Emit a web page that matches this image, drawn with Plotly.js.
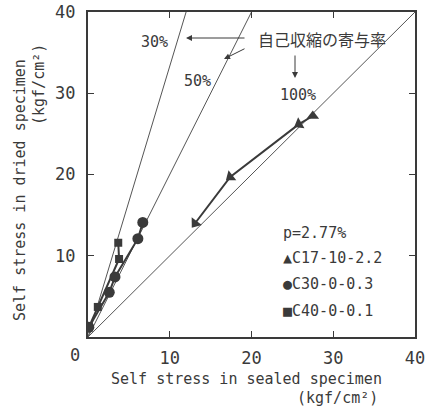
<!DOCTYPE html>
<html>
<head>
<meta charset="utf-8">
<script src="https://cdn.plot.ly/plotly-3.0.1.min.js"></script>
<style>html,body{margin:0;padding:0;background:#fff;}#chart{width:426px;height:407px;}</style>
</head>
<body>
<div id="chart"></div>
<script>
// Reference lines (contribution ratio of autogenous shrinkage)
const refNames = ["30%", "50%", "100%"];
const refX = [[0, 12], [0, 20], [0, 40]];
const refY = [[0, 40], [0, 40], [0, 40]];

// Series
const c17Name = "C17-10-2.2";
const c17X = [27.5, 25.8, 17.4, 13.1];
const c17Y = [27.2, 26.2, 19.7, 14.0];

const c30Name = "C30-0-0.3";
const c30X = [0.1, 2.6, 3.3, 6.1, 6.7];
const c30Y = [1.2, 5.5, 7.4, 12.1, 14.1];

const c40Name = "C40-0-0.1";
const c40X = [0.1, 1.2, 3.8, 3.7];
const c40Y = [1.2, 3.7, 9.6, 11.6];

const xTicks = [10, 20, 30, 40];
const yTicks = [10, 20, 30, 40];

const ink = "#3a3a3a";
const mono = "DejaVu Sans Mono, monospace";
const cjk = "Noto Sans CJK JP, sans-serif";

const traces = [];
for (let i = 0; i < refX.length; i++) {
  traces.push({x: refX[i], y: refY[i], mode: "lines", name: refNames[i],
    line: {color: "#555", width: 1}, hoverinfo: "skip", showlegend: false});
}
traces.push({x: c40X, y: c40Y, mode: "lines+markers", name: c40Name,
  line: {color: ink, width: 2}, marker: {symbol: "square", size: 8, color: ink}, showlegend: false});
traces.push({x: c30X, y: c30Y, mode: "lines+markers", name: c30Name,
  line: {color: ink, width: 2}, marker: {symbol: "circle", size: 11, color: ink}, showlegend: false});
traces.push({x: c17X, y: c17Y, mode: "lines+markers", name: c17Name,
  line: {color: ink, width: 2},
  marker: {symbol: "triangle-up", size: 11, color: ink, angleref: "up", angle: [0, 240, 232, 217]},
  showlegend: false});

const tickFont = {family: mono, size: 17, color: ink};

const ann = [];
const L = 88, R = 415, T = 12, B = 337;
function paperAnn(text, xpx, ypx, opts) {
  return Object.assign({
    text: text, xref: "paper", yref: "paper",
    x: (xpx - L) / (R - L), y: (B - ypx) / (B - T),
    showarrow: false, xanchor: "center", yanchor: "middle",
    font: {family: mono, size: 15, color: ink}
  }, opts || {});
}
ann.push(paperAnn("0", 75, 355, {font: tickFont}));
ann.push(paperAnn(refNames[0], 154, 42));
ann.push(paperAnn(refNames[1], 197, 81));
ann.push(paperAnn(refNames[2], 298, 95));
ann.push(paperAnn("自己収縮の寄与率", 322, 39, {font: {family: cjk, size: 16, color: ink}}));
ann.push(paperAnn("p=2.77%", 281, 233, {xanchor: "left"}));
ann.push(paperAnn("▲" + c17Name, 281, 258, {xanchor: "left"}));
ann.push(paperAnn("●" + c30Name, 281, 284, {xanchor: "left"}));
ann.push(paperAnn("■" + c40Name, 281, 311, {xanchor: "left"}));
ann.push(paperAnn("Self stress in sealed specimen", 246, 379));
ann.push(paperAnn("(kgf/cm²)", 337, 398));
ann.push(paperAnn("Self stress in dried specimen", 20, 190, {textangle: -90}));
ann.push(paperAnn("(kgf/cm²)", 39, 85, {textangle: -90}));

function arrowAnn(x0, y0, x1, y1) {
  return {text: "", xref: "paper", yref: "paper",
    x: (x1 - L) / (R - L), y: (B - y1) / (B - T),
    ax: x0 - x1, ay: y0 - y1, axref: "pixel", ayref: "pixel",
    showarrow: true, arrowhead: 2, arrowsize: 1.2, arrowwidth: 1, arrowcolor: ink};
}
ann.push(arrowAnn(246, 38, 186, 38));
ann.push(arrowAnn(246, 48, 224, 59));
ann.push(arrowAnn(295, 54, 295, 78));

const layout = {
  width: 426, height: 407,
  margin: {l: 88, r: 11, t: 12, b: 70},
  paper_bgcolor: "#fff", plot_bgcolor: "#fff",
  showlegend: false,
  xaxis: {range: [0, 40], tickvals: xTicks, ticktext: xTicks.map(String),
    ticks: "inside", ticklen: 6, tickcolor: ink, mirror: "ticks",
    showline: true, linecolor: ink, linewidth: 2, showgrid: false, zeroline: false,
    tickfont: tickFont, ticklabelstandoff: 5, fixedrange: true},
  yaxis: {range: [0, 40], tickvals: yTicks, ticktext: yTicks.map(String),
    ticks: "inside", ticklen: 6, tickcolor: ink, mirror: "ticks",
    showline: true, linecolor: ink, linewidth: 2, showgrid: false, zeroline: false,
    tickfont: tickFont, ticklabelstandoff: 7, fixedrange: true},
  annotations: ann
};

Plotly.newPlot("chart", traces, layout, {staticPlot: true, displayModeBar: false});
</script>
</body>
</html>
